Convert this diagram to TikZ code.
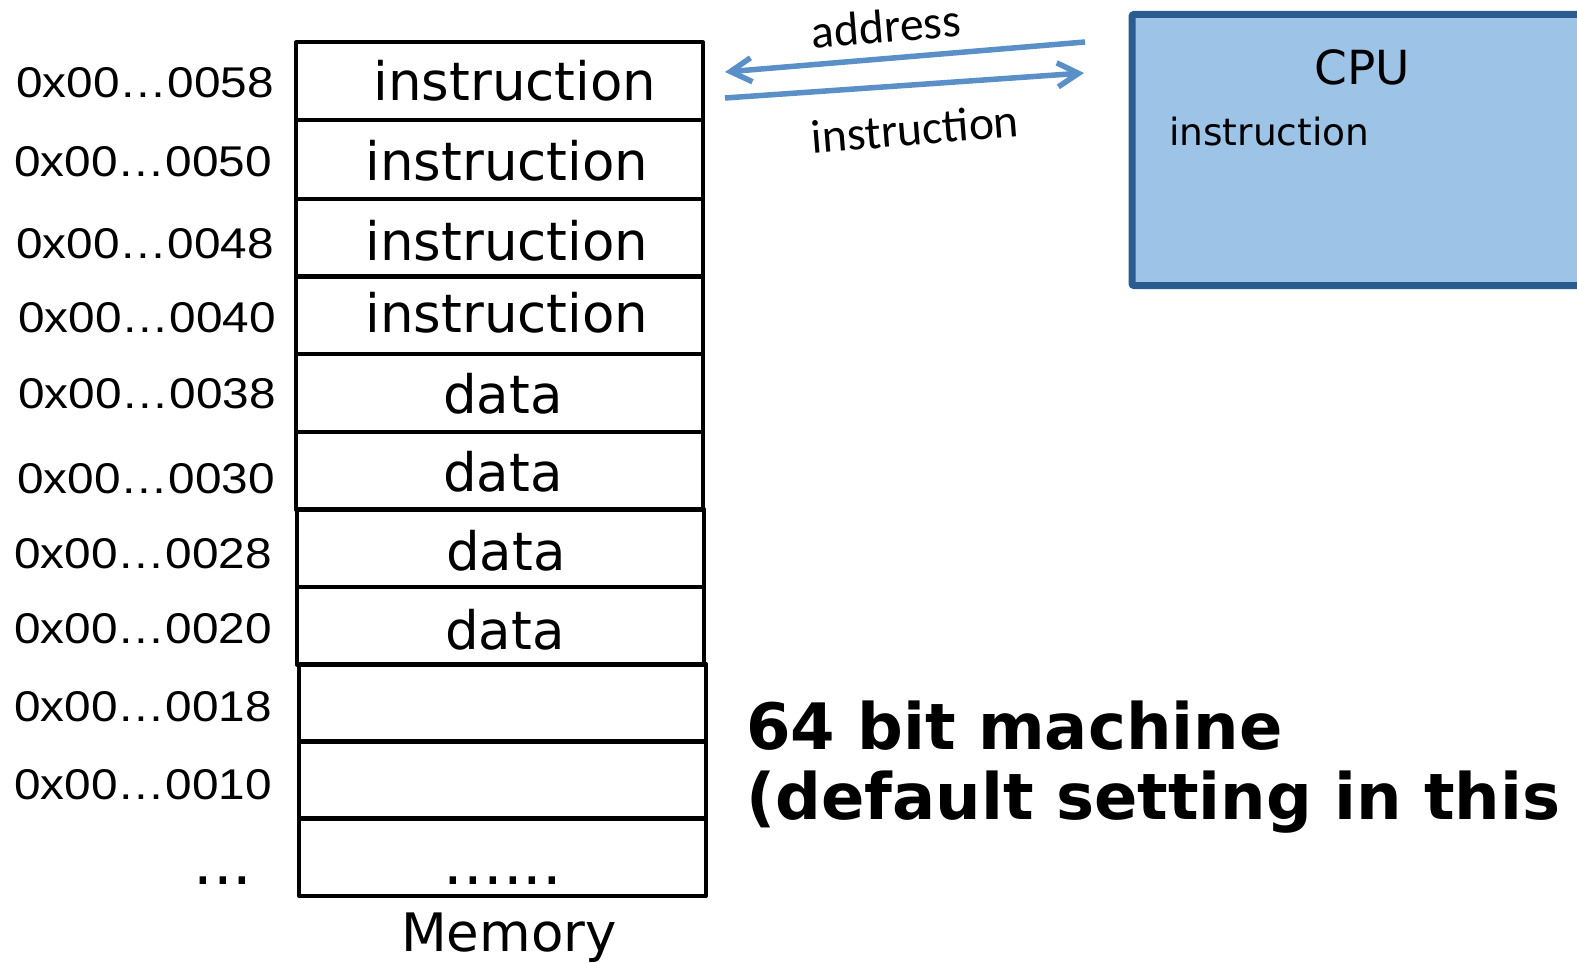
\documentclass[tikz,border=0pt]{standalone}
\usepackage{fontspec}
\setmainfont{DejaVu Sans}
\newfontfamily\addrfont{Liberation Sans}
\newfontfamily\calfont{Carlito}
\usetikzlibrary{arrows.meta}
\definecolor{cpufill}{HTML}{9DC3E6}
\definecolor{cpuborder}{HTML}{2A5C8F}
\definecolor{arrowblue}{HTML}{5B8FC8}
\tikzset{
  cell/.style={draw=black, line width=4pt, line join=round, minimum width=407pt, minimum height=78pt, inner sep=0pt},
  celltext/.style={anchor=base, inner sep=0pt, font=\fontsize{53}{60}\selectfont},
  dotstext/.style={anchor=base, inner sep=0pt, font=\fontsize{62}{60}\selectfont},
  addr/.style={anchor=base east, inner sep=0pt, xscale=1.11, font=\addrfont\fontsize{43}{50}\selectfont},
  buslabel/.style={inner sep=0pt, rotate=4.6, font=\calfont\fontsize{47.5}{50}\selectfont},
  bus/.style={draw=arrowblue, line width=5.5pt, -{Straight Barb[length=21pt,width=24pt,line width=5.5pt]}},
}
\begin{document}
\begin{tikzpicture}[x=1pt,y=-1pt]
\clip (0,0) rectangle (1577,963);
\fill[white] (0,0) rectangle (1577,963);
% CPU
\node[draw=cpuborder, fill=cpufill, line width=7pt, rounded corners=2pt, minimum width=480pt, minimum height=271pt, inner sep=0pt, outer sep=0pt, anchor=north west] (cpu) at (1132,14.5) {};
\node[inner sep=0pt, font=\fontsize{47}{50}\selectfont] (cputitle) at (1362,67) {CPU};
\node[anchor=base west, inner sep=0pt, font=\fontsize{37.5}{40}\selectfont] (cpuinst) at (1169,146) {instruction};
% memory cells
\node[cell] (m1) at (499.5,81.5) {};
\node[cell] (m2) at (499.5,159.5) {};
\node[cell] (m3) at (499.5,237.5) {};
\node[cell] (m4) at (499.5,315) {};
\node[cell] (m5) at (499.5,393) {};
\node[cell] (m6) at (499.5,470.5) {};
\node[cell] (m7) at (500.5,548) {};
\node[cell] (m8) at (500.5,625.5) {};
\node[cell] (m9) at (502.5,702.5) {};
\node[cell] (m10) at (502.5,779.5) {};
\node[cell] (m11) at (502.5,857) {};
% cell texts
\node[celltext] (t1) at (515,101) {instruction};
\node[celltext] (t2) at (507,180) {instruction};
\node[celltext] (t3) at (507,260) {instruction};
\node[celltext] (t4) at (507,332) {instruction};
\node[celltext] (t5) at (503,413) {data};
\node[celltext] (t6) at (503,491) {data};
\node[celltext] (t7) at (506,570) {data};
\node[celltext] (t8) at (505,649) {data};
\node[dotstext] (t11) at (503,884) {......};
\node[celltext] (memlabel) at (509,951) {Memory};
% addresses
\node[addr] (a1) at (274,98) {0x00…0058};
\node[addr] (a2) at (272,176) {0x00…0050};
\node[addr] (a3) at (274,258) {0x00…0048};
\node[addr] (a4) at (276,332) {0x00…0040};
\node[addr] (a5) at (276,408) {0x00…0038};
\node[addr] (a6) at (275,493) {0x00…0030};
\node[addr] (a7) at (272,568) {0x00…0028};
\node[addr] (a8) at (272,643) {0x00…0020};
\node[addr] (a9) at (272,721) {0x00…0018};
\node[addr] (a10) at (272,799) {0x00…0010};
\node[dotstext] (a11) at (223,884) {...};
% bus arrows
\coordinate (cpuA) at (1085,42);
\coordinate (memA) at (725,72);
\coordinate (memI) at (725,98);
\coordinate (cpuI) at (1084,73);
\draw[bus] (cpuA) -- (memA);
\draw[bus] (memI) -- (cpuI);
\node[buslabel] (lbladdr) at (886,26) {address};
\node[buslabel] (lblinst) at (915,129) {instruction};
% note
\node[anchor=base west, inner sep=0pt, align=left, font=\bfseries\fontsize{64}{70}\selectfont] (note) at (746,819) {64 bit machine\\(default setting in this};
\end{tikzpicture}
\end{document}
